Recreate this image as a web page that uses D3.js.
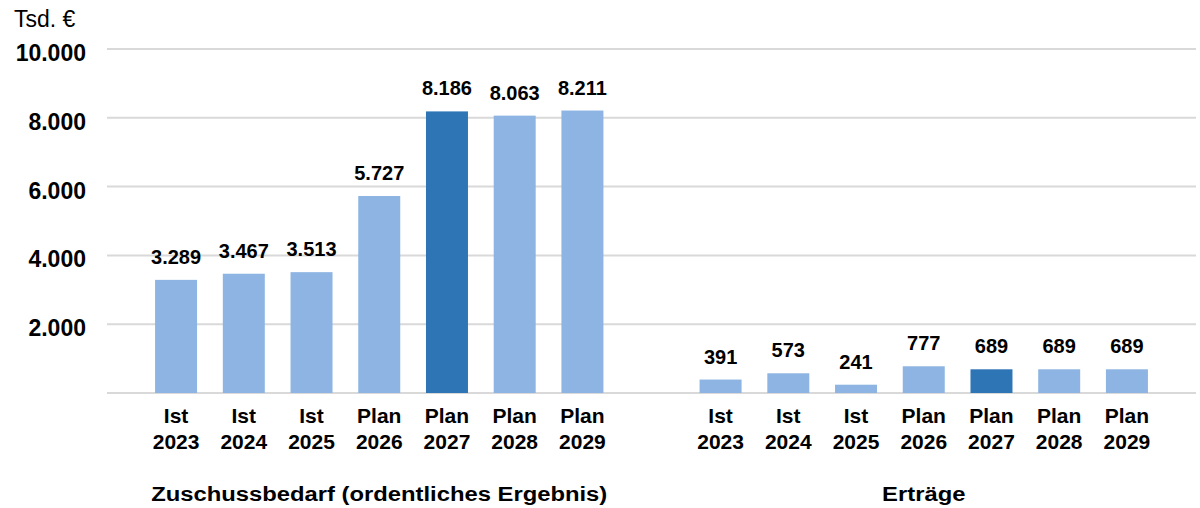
<!DOCTYPE html>
<html>
<head>
<meta charset="utf-8">
<script src="https://cdn.jsdelivr.net/npm/d3@7"></script>
<style>
  body { margin: 0; background: #fff; }
  svg { display: block; font-family: "Liberation Sans", Arial, sans-serif; }
</style>
</head>
<body>
<div id="chart"></div>
<script>
// data
var groups = ["Zuschussbedarf (ordentliches Ergebnis)", "Erträge"];
var periods = ["Ist 2023", "Ist 2024", "Ist 2025", "Plan 2026", "Plan 2027", "Plan 2028", "Plan 2029"];
var zuschussbedarf = [3289, 3467, 3513, 5727, 8186, 8063, 8211];
var ertraege = [391, 573, 241, 777, 689, 689, 689];
var highlightPeriod = "Plan 2027";
var yTicks = [2000, 4000, 6000, 8000, 10000];

var seriesByGroup = [zuschussbedarf, ertraege];

var width = 1200, height = 508;
var margin = { top: 49, right: 4, bottom: 115, left: 107 };
var innerW = width - margin.left - margin.right,
    innerH = height - margin.top - margin.bottom;

var svg = d3.select("#chart")
    .append("svg")
    .attr("width", width)
    .attr("height", height);

var g = svg.append("g")
    .attr("transform", "translate(" + margin.left + "," + margin.top + ")");

var y = d3.scaleLinear()
    .domain([0, 10000])
    .range([innerH, 0]);

var x0 = d3.scaleBand()
    .domain(groups)
    .range([0, innerW]);

var x1 = d3.scaleBand()
    .domain(periods)
    .range([0, x0.bandwidth()])
    .paddingInner(0.38)
    .paddingOuter(0.71);

var fmt = function(v) {
    return d3.format(",")(v).replace(/,/g, ".");
};

// gridlines
g.append("g")
    .selectAll("line")
    .data([0].concat(yTicks))
    .enter()
    .append("line")
    .attr("x1", 0)
    .attr("x2", innerW)
    .attr("y1", function(d) { return y(d); })
    .attr("y2", function(d) { return y(d); })
    .attr("stroke", "#d9d9d9")
    .attr("stroke-width", 2);

// y axis labels
g.append("g")
    .selectAll("text")
    .data(yTicks)
    .enter()
    .append("text")
    .attr("x", 86 - margin.left)
    .attr("y", function(d) { return y(d) + 12; })
    .attr("text-anchor", "end")
    .style("font-size", "23px")
    .style("font-weight", "bold")
    .attr("fill", "#000")
    .text(fmt);

svg.append("text")
    .attr("x", 14)
    .attr("y", 27)
    .style("font-size", "23px")
    .attr("fill", "#000")
    .text("Tsd. €");

var groupG = g.selectAll("g.group")
    .data(groups)
    .enter()
    .append("g")
    .attr("class", "group")
    .attr("transform", function(d) { return "translate(" + x0(d) + ",0)"; });

groupG.each(function(gName, gi) {
    var sel = d3.select(this);
    var rows = periods.map(function(p, i) {
        return { period: p, value: seriesByGroup[gi][i] };
    });

    sel.selectAll("rect")
        .data(rows)
        .enter()
        .append("rect")
        .attr("x", function(d) { return x1(d.period); })
        .attr("y", function(d) { return y(d.value); })
        .attr("width", x1.bandwidth())
        .attr("height", function(d) { return y(0) - y(d.value); })
        .attr("fill", function(d) {
            return d.period == highlightPeriod ? "#2e75b6" : "#8db4e2";
        });

    // value labels
    sel.selectAll("text.val")
        .data(rows)
        .enter()
        .append("text")
        .attr("class", "val")
        .attr("x", function(d) { return x1(d.period) + x1.bandwidth() / 2; })
        .attr("y", function(d) { return y(d.value) - 16; })
        .attr("text-anchor", "middle")
        .style("font-size", "20px")
        .style("font-weight", "bold")
        .text(function(d) { return fmt(d.value); });

    // category labels (two lines)
    var cat = sel.selectAll("text.cat")
        .data(rows)
        .enter()
        .append("text")
        .attr("class", "cat")
        .attr("text-anchor", "middle")
        .style("font-size", "21px")
        .style("font-weight", "bold");
    cat.append("tspan")
        .attr("x", function(d) { return x1(d.period) + x1.bandwidth() / 2; })
        .attr("y", innerH + 30)
        .text(function(d) { return d.period.split(" ")[0]; });
    cat.append("tspan")
        .attr("x", function(d) { return x1(d.period) + x1.bandwidth() / 2; })
        .attr("y", innerH + 56)
        .text(function(d) { return d.period.split(" ")[1]; });

    // group title (reference type is a bit wider than it is tall)
    sel.append("text")
        .attr("transform", "translate(" + (x0.bandwidth() / 2) + "," + (innerH + 108) + ") scale(1.19,1)")
        .attr("text-anchor", "middle")
        .style("font-size", "20px")
        .style("font-weight", "bold")
        .text(gName);
});
</script>
</body>
</html>
